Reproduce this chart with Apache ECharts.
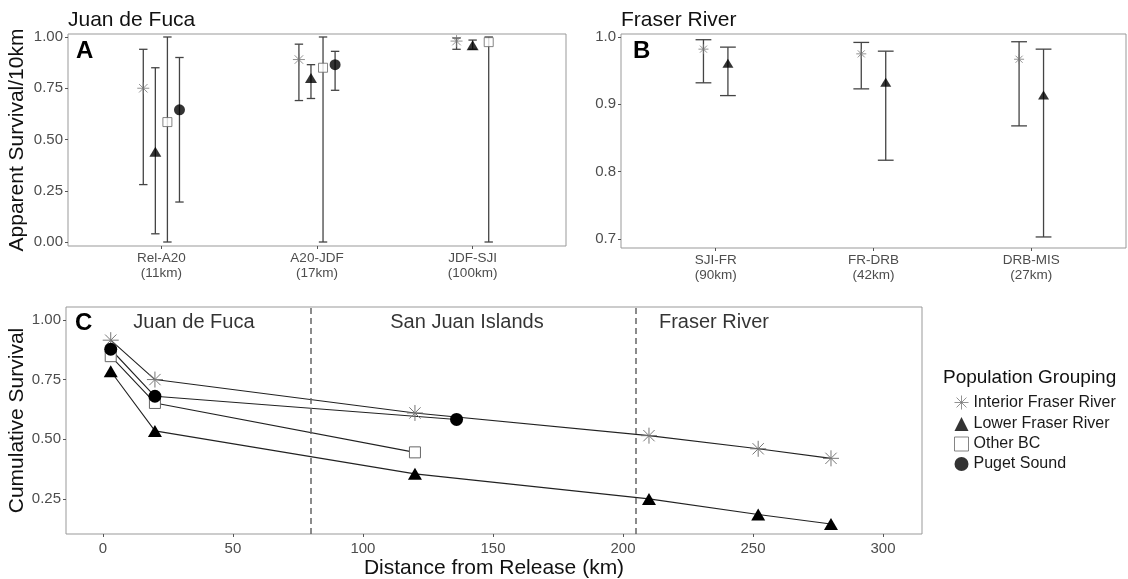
<!DOCTYPE html>
<html>
<head>
<meta charset="utf-8">
<script src="https://cdn.jsdelivr.net/npm/echarts@6/dist/echarts.min.js"></script>
<style>
  html, body { margin: 0; padding: 0; background: #fff; }
  #chart { width: 1128px; height: 579px; }
</style>
</head>
<body>
<div id="chart"></div>
<script>
var FONT = '"Liberation Sans", Arial, sans-serif';
var groups = ['Interior Fraser River', 'Lower Fraser River', 'Other BC', 'Puget Sound'];

// panel A - Juan de Fuca, apparent survival per 10km
var segA = ['Rel-A20\n(11km)', 'A20-JDF\n(17km)', 'JDF-SJI\n(100km)'];
var estA = [[0.75, 0.89, 0.98], [0.44, 0.80, 0.96], [0.585, 0.85, 0.975], [0.645, 0.865, null]];
var lowA = [[0.28, 0.69, 0.94], [0.04, 0.70, 0.94], [0.0, 0.0, 0.0], [0.195, 0.74, null]];
var highA = [[0.94, 0.965, 0.995], [0.85, 0.865, 0.985], [1.0, 1.0, 1.0], [0.90, 0.93, null]];
var ticksA = [0, 0.25, 0.5, 0.75, 1.0];

// panel B - Fraser River
var segB = ['SJI-FR\n(90km)', 'FR-DRB\n(42km)', 'DRB-MIS\n(27km)'];
var estB = [[0.982, 0.975, 0.967], [0.961, 0.933, 0.914], [null, null, null], [null, null, null]];
var lowB = [[0.932, 0.923, 0.868], [0.913, 0.817, 0.703], [null, null, null], [null, null, null]];
var highB = [[0.996, 0.992, 0.993], [0.985, 0.979, 0.982], [null, null, null], [null, null, null]];
var ticksB = [0.7, 0.8, 0.9, 1.0];

// panel C - cumulative survival vs distance
var distIFR = [3, 20, 120, 210, 252, 280];
var survIFR = [0.915, 0.75, 0.61, 0.515, 0.46, 0.42];
var distLFR = [3, 20, 120, 210, 252, 280];
var survLFR = [0.785, 0.535, 0.355, 0.25, 0.185, 0.145];
var distOBC = [3, 20, 120];
var survOBC = [0.848, 0.652, 0.445];
var distPS = [3, 20, 136];
var survPS = [0.877, 0.68, 0.583];
var ticksCx = [0, 50, 100, 150, 200, 250, 300];
var ticksCy = [0.25, 0.5, 0.75, 1.0];
var regionBreaks = [80, 205];
var regionNames = ['Juan de Fuca', 'San Juan Islands', 'Fraser River'];
var regionCentres = [35, 140, 235];

var ASTERISK = 'path://M10,0L10,20M0,10L20,10M2.93,2.93L17.07,17.07M2.93,17.07L17.07,2.93';
var symbols = [ASTERISK, 'triangle', 'rect', 'circle'];
var markStyles = [
  { color: 'none', borderColor: '#777', borderWidth: 1 },
  { color: '#000' },
  { color: '#fff', borderColor: '#666', borderWidth: 1 },
  { color: '#000' }
];
var DODGE = 0.31;

var chart = echarts.init(document.getElementById('chart'));

function errorBarItem(capHalf) {
  return function (params, api) {
    var x = api.value(0), lo = api.value(1), hi = api.value(2);
    var top = api.coord([x, hi]), bot = api.coord([x, lo]);
    var l = api.coord([x - capHalf, hi])[0], r = api.coord([x + capHalf, hi])[0];
    var st = { stroke: '#444', lineWidth: 1.3 };
    return {
      type: 'group',
      children: [
        { type: 'line', shape: { x1: top[0], y1: top[1], x2: bot[0], y2: bot[1] }, style: st },
        { type: 'line', shape: { x1: l, y1: top[1], x2: r, y2: top[1] }, style: st },
        { type: 'line', shape: { x1: l, y1: bot[1], x2: r, y2: bot[1] }, style: st }
      ]
    };
  };
}

var series = [];

function addDodgePanel(ai, cats, est, low, high, capHalf, sizes) {
  groups.forEach(function (g, gi) {
    var bars = [], pts = [];
    cats.forEach(function (c, ci) {
      if (est[gi][ci] == null) return;
      var present = [];
      est.forEach(function (row, k) { if (row[ci] != null) present.push(k); });
      var n = present.length, idx = present.indexOf(gi);
      var x = ci + 1 + (idx - (n - 1) / 2) * DODGE / n;
      bars.push([x, low[gi][ci], high[gi][ci]]);
      pts.push([x, est[gi][ci]]);
    });
    if (!pts.length) return;
    series.push({
      type: 'custom', xAxisIndex: ai, yAxisIndex: ai, silent: true, z: 2,
      renderItem: errorBarItem(capHalf), data: bars, encode: { x: 0, y: [1, 2] }
    });
    series.push({
      type: 'scatter', name: g, xAxisIndex: ai, yAxisIndex: ai, silent: true, z: 3,
      data: pts, symbol: symbols[gi], symbolSize: sizes[gi], itemStyle: markStyles[gi]
    });
  });
}

addDodgePanel(0, segA, estA, lowA, highA, 0.027, [12, [12, 10], 9, 11]);
addDodgePanel(1, segB, estB, lowB, highB, 0.05, [10, [11, 9], 9, 10]);

var cLines = [[distIFR, survIFR], [distLFR, survLFR], [distOBC, survOBC], [distPS, survPS]];
var cSizes = [16, [14, 12], 11, 13];
cLines.forEach(function (pair, gi) {
  series.push({
    type: 'line', name: groups[gi], xAxisIndex: 2, yAxisIndex: 2, silent: true, z: 3,
    data: pair[0].map(function (d, i) { return [d, pair[1][i]]; }),
    symbol: symbols[gi], symbolSize: cSizes[gi], showAllSymbol: true,
    itemStyle: markStyles[gi],
    lineStyle: { color: '#222', width: 1.1 }
  });
});

series.push({
  type: 'scatter', xAxisIndex: 2, yAxisIndex: 2, silent: true, z: 1,
  symbolSize: 0, itemStyle: { color: '#000' },
  data: regionNames.map(function (n, i) { return { name: n, value: [regionCentres[i], 0.99] }; }),
  label: { show: true, position: 'inside', formatter: '{b}', fontSize: 20, color: '#000', fontFamily: FONT },
  markLine: {
    silent: true, symbol: ['none', 'none'], label: { show: false },
    lineStyle: { type: [6, 4], color: '#666', width: 1.5 },
    data: regionBreaks.map(function (b) { return { xAxis: b }; })
  }
});

var tickLabel = { color: '#4d4d4d', fontSize: 15, fontFamily: FONT, margin: 5 };
var tickStyle = { show: true, length: 3, lineStyle: { color: '#555' } };
var nameStyle = { fontSize: 21, color: '#111', fontFamily: FONT };

function catAxis(gi, labels) {
  return {
    gridIndex: gi, type: 'value', min: 0.4, max: 3.6,
    axisLine: { show: false, onZero: false }, splitLine: { show: false },
    axisTick: Object.assign({ customValues: [1, 2, 3] }, tickStyle),
    axisLabel: Object.assign({}, tickLabel, {
      customValues: [1, 2, 3], lineHeight: 15, fontSize: 13.5,
      formatter: function (v) { return labels[Math.round(v) - 1]; }
    })
  };
}

function valAxis(gi, min, max, ticks, dec, name, gap, margin) {
  return {
    gridIndex: gi, type: 'value', min: min, max: max,
    axisLine: { show: false, onZero: false }, splitLine: { show: false },
    axisTick: Object.assign({ customValues: ticks }, tickStyle),
    axisLabel: Object.assign({}, tickLabel, {
      customValues: ticks, margin: margin,
      formatter: function (v) { return v.toFixed(dec); }
    }),
    name: name, nameLocation: 'middle', nameGap: gap, nameMoveOverlap: false,
    nameTextStyle: nameStyle
  };
}

var gridBase = { show: true, borderColor: '#999', borderWidth: 1, backgroundColor: 'transparent', outerBoundsMode: 'none', containLabel: false };

var option = {
  animation: false,
  textStyle: { fontFamily: FONT },
  grid: [
    Object.assign({ left: 68, top: 34, width: 498, height: 212 }, gridBase),
    Object.assign({ left: 621, top: 34, width: 505, height: 214 }, gridBase),
    Object.assign({ left: 66, top: 307, width: 856, height: 227 }, gridBase)
  ],
  xAxis: [
    catAxis(0, segA),
    catAxis(1, segB),
    valAxis(2, -14.2, 315, ticksCx, 0, 'Distance from Release (km)', 24, 7)
  ],
  yAxis: [
    valAxis(0, -0.0195, 1.0146, ticksA, 2, 'Apparent Survival/10km', 40, 5),
    valAxis(1, 0.6866, 1.0045, ticksB, 1, '', 0, 5),
    valAxis(2, 0.103, 1.054, ticksCy, 2, 'Cumulative Survival', 38, 5)
  ],
  legend: {
    orient: 'vertical', left: 947, top: 388, itemWidth: 14, itemHeight: 14, itemGap: 4,
    selectedMode: false,
    textStyle: { fontSize: 16, color: '#1a1a1a', fontFamily: FONT },
    data: groups.map(function (g, i) {
      return { name: g, icon: symbols[i], itemStyle: markStyles[i] };
    })
  },
  graphic: [
    { type: 'text', left: 68, top: 10, style: { text: 'Juan de Fuca', font: '21px ' + FONT, fill: '#111' } },
    { type: 'text', left: 621, top: 10, style: { text: 'Fraser River', font: '21px ' + FONT, fill: '#111' } },
    { type: 'text', left: 76, top: 39, style: { text: 'A', font: 'bold 24px ' + FONT, fill: '#000' } },
    { type: 'text', left: 633, top: 39, style: { text: 'B', font: 'bold 24px ' + FONT, fill: '#000' } },
    { type: 'text', left: 75, top: 311, style: { text: 'C', font: 'bold 24px ' + FONT, fill: '#000' } },
    { type: 'text', left: 943, top: 368, style: { text: 'Population Grouping', font: '19px ' + FONT, fill: '#111' } }
  ],
  series: series
};

chart.setOption(option);
</script>
</body>
</html>
